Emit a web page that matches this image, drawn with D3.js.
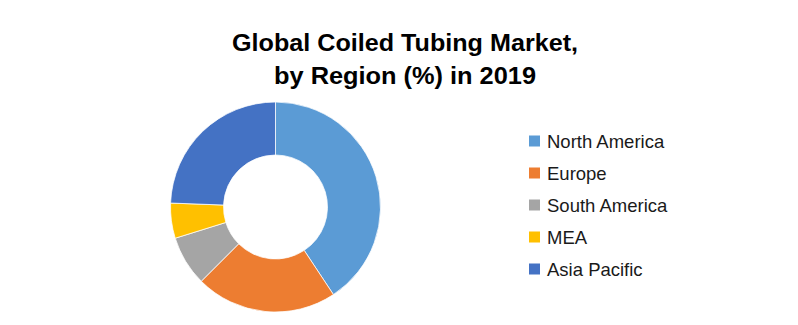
<!DOCTYPE html>
<html>
<head>
<meta charset="utf-8">
<script src="https://cdn.jsdelivr.net/npm/d3@7"></script>
<style>
  html, body { margin: 0; padding: 0; background: #fff; }
  svg { display: block; }
</style>
</head>
<body>
<svg id="chart" width="798" height="325"></svg>
<script>
// Market share by region, 2019 (%)
const regions = ["North America", "Europe", "South America", "MEA", "Asia Pacific"];
const shares = [40.7, 21.8, 7.7, 5.4, 24.4];
const colors = ["#5B9BD5", "#ED7D31", "#A5A5A5", "#FFC000", "#4472C4"];
const titleLines = ["Global Coiled Tubing Market,", "by Region (%) in 2019"];

const svg = d3.select("#chart");
const font = "'Liberation Sans', Arial, sans-serif";

// Title
const titleWidths = [346, 262];
svg.append("g").selectAll("text")
  .data(titleLines)
  .join("text")
  .attr("x", 405)
  .attr("y", (d, i) => 51 + i * 33)
  .attr("text-anchor", "middle")
  .attr("font-family", font)
  .attr("font-weight", "bold")
  .attr("font-size", 23)
  .attr("fill", "#000")
  .attr("textLength", (d, i) => titleWidths[i])
  .attr("lengthAdjust", "spacingAndGlyphs")
  .text(d => d);

// Donut
const cx = 275.5, cy = 207, outerR = 105, innerR = 52;
const pie = d3.pie().sort(null).value(d => d.value);
const arc = d3.arc().innerRadius(innerR).outerRadius(outerR);
const data = regions.map((r, i) => ({ name: r, value: shares[i], color: colors[i] }));

svg.append("g")
  .attr("transform", `translate(${cx},${cy})`)
  .selectAll("path")
  .data(pie(data))
  .join("path")
  .attr("d", arc)
  .attr("fill", d => d.data.color)
  .attr("stroke", "#fff")
  .attr("stroke-width", 0.75);

// Legend
const legend = svg.append("g").attr("transform", "translate(529,141)");
const rows = legend.selectAll("g")
  .data(data)
  .join("g")
  .attr("transform", (d, i) => `translate(0,${i * 32})`);
rows.append("rect")
  .attr("x", 0).attr("y", -5.5)
  .attr("width", 11).attr("height", 11)
  .attr("fill", d => d.color);
rows.append("text")
  .attr("x", 18)
  .attr("y", 6.5)
  .attr("font-family", font)
  .attr("font-size", 18.5)
  .attr("fill", "#1a1a1a")
  .text(d => d.name);
</script>
</body>
</html>
